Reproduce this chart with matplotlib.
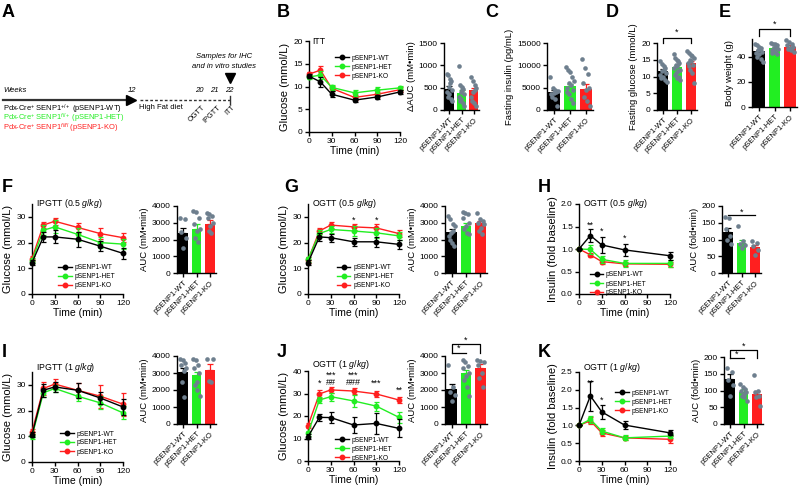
import numpy as np
import matplotlib
matplotlib.use('Agg')
import matplotlib.pyplot as plt

plt.rcParams['font.family'] = ['Liberation Sans', 'DejaVu Sans']
plt.rcParams['mathtext.fontset'] = 'custom'
plt.rcParams['mathtext.rm'] = 'Liberation Sans'
plt.rcParams['mathtext.it'] = 'Liberation Sans:italic'
plt.rcParams['axes.linewidth'] = 1.0

# groups
groups = ['pSENP1-WT', 'pSENP1-HET', 'pSENP1-KO']
colors = ['black', '#22ee22', '#ff1f1f']
dot_color = '#6e7f8e'

# time points
t_glu = [0, 15, 30, 60, 90, 120]
t_ins = [0, 15, 30, 60, 120]

# B: ITT glucose
itt_mean = [[12.3, 11.0, 8.3, 7.0, 7.7, 8.8],
            [12.1, 12.5, 9.8, 8.6, 9.2, 9.7],
            [12.7, 13.6, 9.6, 7.6, 8.3, 9.3]]
itt_err = [[0.4, 1.0, 0.7, 0.5, 0.5, 0.5],
           [0.4, 0.8, 0.6, 0.7, 0.6, 0.5],
           [0.4, 0.8, 0.5, 0.6, 0.5, 0.5]]
itt_auc = [480, 380, 440]
itt_auc_sem = [60, 60, 50]
itt_auc_dots = [[800, 780, 700, 650, 600, 520, 450, 400, 350, 300, 250, 200],
                [990, 560, 520, 480, 450, 400, 350, 300, 250, 200, 150, 100],
                [730, 640, 560, 500, 450, 400, 300, 200, 150, 100]]

# C: fasting insulin
ins_mean = [4000, 5300, 4800]
ins_sem = [450, 600, 1000]
ins_dots = [[7300, 5000, 4500, 4200, 4000, 3800, 3500, 3000, 2500, 1000],
            [9700, 9000, 8500, 7500, 6500, 6000, 5500, 5000, 4500, 4000, 3500, 2500, 1500],
            [11500, 9500, 8000, 6000, 5000, 4500, 3000, 2000, 1000]]

# D: fasting glucose
fg_mean = [11.7, 12.8, 14.0]
fg_sem = [0.5, 0.5, 0.7]
fg_dots = [[14.5, 13.8, 13.2, 12.5, 12, 11.5, 11, 10.5, 10, 9.5, 9, 8.5],
           [16.8, 15.5, 15, 14.5, 14, 13.5, 13, 12.5, 12, 11.5, 11, 10.5, 10, 9.5, 9],
           [17.5, 17, 16.5, 16, 15.5, 15, 14.5, 14, 13.5, 13, 12, 11, 8]]

# E: body weight
bw_mean = [44.5, 46.5, 48.0]
bw_sem = [1.0, 1.0, 1.0]
bw_dots = [[50, 49, 48, 47, 46, 45, 44, 43, 42, 40, 38, 36],
           [51, 50, 50, 49, 48, 47, 46, 45, 44, 43, 42],
           [53, 52, 50, 49, 48, 47, 46, 45, 44]]

# F: IPGTT 0.5 g/kg
f_mean = [[12.2, 22.2, 22.2, 21.3, 18.6, 15.8],
          [13.0, 24.8, 26.1, 23.2, 20.0, 19.4],
          [13.8, 26.8, 28.3, 25.9, 23.5, 21.9]]
f_err = [[1.0, 2.0, 2.5, 3.0, 2.0, 2.0],
         [1.0, 2.0, 2.5, 2.5, 2.0, 2.0],
         [1.0, 1.2, 1.3, 1.8, 2.0, 1.8]]
f_auc = [2380, 2650, 2950]
f_auc_sem = [280, 250, 200]
f_auc_dots = [[3300, 3250, 2450, 2100, 1500],
              [3700, 3650, 3300, 2900, 2600, 2500, 2100, 1850],
              [3600, 3550, 3400, 3300, 3000, 2800, 2500, 2400]]

# G: OGTT 0.5 g/kg
g_mean = [[12.2, 22.2, 21.9, 20.3, 20.3, 19.3],
          [13.5, 23.5, 25.1, 24.5, 23.8, 22.6],
          [13.2, 24.5, 26.8, 26.1, 25.7, 23.5]]
g_err = [[1.0, 1.5, 1.5, 1.5, 2.0, 1.8],
         [1.0, 1.5, 1.5, 1.8, 2.0, 1.5],
         [1.0, 1.3, 1.2, 1.3, 1.5, 1.2]]
g_auc = [2420, 2780, 2960]
g_auc_sem = [180, 180, 150]
g_auc_dots = [[3400, 3200, 2900, 2800, 2500, 2400, 2200, 2000, 1800, 1600],
              [3650, 3600, 3500, 3300, 3000, 2800, 2600, 2400, 2300],
              [3600, 3200, 3100, 3000, 2900, 2700, 2500, 2300]]

# H: OGTT 0.5 g/kg insulin
h_mean = [[1.0, 1.30, 1.09, 0.98, 0.85],
          [1.0, 0.99, 0.77, 0.68, 0.68],
          [1.0, 0.87, 0.72, 0.67, 0.66]]
h_err = [[0, 0.14, 0.17, 0.14, 0.09],
         [0, 0.10, 0.08, 0.07, 0.08],
         [0, 0.05, 0.05, 0.05, 0.06]]
h_auc = [122, 90, 78]
h_auc_sem = [12, 10, 7]
h_auc_dots = [[168, 165, 130, 110, 100, 88],
              [140, 95, 88, 85, 75],
              [95, 90, 80, 70, 55]]

# I: IPGTT 1 g/kg
i_mean = [[10.6, 27.9, 29.2, 27.9, 24.9, 21.4],
          [10.0, 26.9, 28.6, 25.6, 23.0, 19.1],
          [11.7, 28.6, 30.3, 27.9, 25.6, 22.5]]
i_err = [[1.0, 2.5, 2.0, 3.0, 2.5, 3.0],
         [1.0, 1.5, 1.5, 2.0, 2.5, 2.5],
         [1.0, 2.5, 2.0, 3.0, 4.5, 4.5]]
i_auc = [3070, 2870, 3150]
i_auc_sem = [250, 200, 380]
i_auc_dots = [[3800, 3750, 3600, 3500, 3300, 3100, 2500, 1600],
              [3800, 3750, 3500, 3300, 3000, 2500, 2300, 2000, 1650],
              [3850, 3800, 2550, 2500]]

# J: OGTT 1 g/kg
j_mean = [[10.8, 19.4, 19.3, 16.0, 16.7, 14.5],
          [12.3, 27.1, 28.6, 26.7, 24.4, 19.4],
          [15.7, 29.8, 31.6, 31.1, 29.8, 27.1]]
j_err = [[1.0, 1.5, 2.5, 3.5, 4.5, 4.0],
         [1.0, 1.5, 1.8, 2.5, 2.0, 2.3],
         [1.0, 1.8, 1.5, 1.2, 1.2, 1.5]]
j_auc = [2030, 3000, 3300]
j_auc_sem = [350, 180, 250]
j_auc_dots = [[3450, 2200, 1900, 1700, 1350],
              [3750, 3650, 3400, 3300, 3000, 2800, 2600, 2200, 1650],
              [3750, 3700, 3650, 3500, 3000, 2700, 2150]]

# K: OGTT 1 g/kg insulin
k_mean = [[1.0, 1.83, 1.38, 1.01, 0.79],
          [1.0, 1.17, 0.84, 0.65, 0.70],
          [1.0, 1.13, 0.79, 0.65, 0.61]]
k_err = [[0, 0.43, 0.20, 0.12, 0.07],
         [0, 0.10, 0.08, 0.07, 0.06],
         [0, 0.10, 0.08, 0.06, 0.10]]
k_auc = [135, 95, 90]
k_auc_sem = [15, 8, 10]
k_auc_dots = [[168, 155, 130, 115, 85],
              [120, 110, 105, 100, 95, 90, 85, 80, 70],
              [145, 100, 95, 85, 80, 55]]

# significance marks on time courses: (time, y, text)
g_marks = [(60, 28.8, '*'), (90, 28.8, '*')]
h_marks = [(15, 1.53, '**'), (30, 1.40, '*'), (60, 1.24, '*')]
j_marks = [(15, 34.7, '*'), (30, 38.2, '***'), (30, 34.7, '##'),
           (60, 38.2, '***'), (60, 34.7, '###'), (90, 34.7, '***'),
           (120, 31.6, '**')]
k_marks = [(15, 2.19, '**'), (30, 1.71, '*')]

W, H = 800, 487
fig = plt.figure(figsize=(8, 4.87), dpi=100)

# full-figure overlay in pixel coordinates for panel A and letters
ov = fig.add_axes([0, 0, 1, 1])
ov.set_xlim(0, W)
ov.set_ylim(H, 0)
ov.axis('off')


def px_axes(x0, y0, x1, y1):
    return fig.add_axes([x0 / W, 1 - y1 / H, (x1 - x0) / W, (y1 - y0) / H])


def style(ax):
    ax.spines['top'].set_visible(False)
    ax.spines['right'].set_visible(False)
    ax.tick_params(length=3, width=1, labelsize=6, pad=1.5)


def line_panel(rect, t, means, errs, ylim, yticks, ylabel, title, leg_xy, marks=(), title_y=1.0):
    ax = px_axes(*rect)
    style(ax)
    handles = []
    for k in [2, 1, 0]:
        h = ax.errorbar(t, means[k], yerr=errs[k], color=colors[k], marker='o',
                        ms=3.2, lw=1, elinewidth=0.9, capsize=1.8, capthick=0.9,
                        label=groups[k], clip_on=False, zorder=3 + (2 - k))
        for art in h.lines[1] + h.lines[2]:
            art.set_clip_on(False)
        h.lines[0].set_clip_on(False)
        handles.append(h)
    ax.set_xlim(0, 120)
    ax.set_xticks([0, 30, 60, 90, 120])
    ax.set_ylim(*ylim)
    ax.set_yticks(yticks)
    ax.set_ylabel(ylabel, fontsize=8, labelpad=2)
    ax.set_xlabel('Time (min)', fontsize=7.5, labelpad=0.5)
    ax.text(0.04, title_y, title, transform=ax.transAxes, fontsize=6.3, va='center', ha='left')
    lh = [handles[2][0], handles[1][0], handles[0][0]]
    ax.legend(lh, groups, loc='upper left', bbox_to_anchor=leg_xy, frameon=False,
              fontsize=4.8, handlelength=2.0, handletextpad=0.4, labelspacing=0.3,
              borderpad=0, borderaxespad=0)
    for tx, ty, s in marks:
        ax.text(tx, ty, s, ha='center', va='center', fontsize=6.5, clip_on=False)
    return ax


def bar_panel(rect, means, sems, dots, ylim, yticks, ylabel):
    ax = px_axes(*rect)
    style(ax)
    x = np.arange(3)
    ax.bar(x, means, width=0.72, color=colors, zorder=1)
    for i in range(3):
        ax.errorbar(x[i], means[i], yerr=[[0], [sems[i]]], fmt='none', ecolor=colors[i],
                    elinewidth=0.9, capsize=2, capthick=0.9, zorder=2)
        n = len(dots[i])
        offs = np.linspace(-0.24, 0.24, n)[np.argsort(np.arange(n) % 3)]
        ax.scatter(x[i] + offs, dots[i], s=11, color=dot_color, zorder=3,
                   linewidths=0, clip_on=False)
    ax.set_xlim(-0.45, 2.45)
    ax.set_ylim(*ylim)
    ax.set_yticks(yticks)
    ax.set_xticks(x)
    ax.set_xticklabels(groups, rotation=45, ha='right', rotation_mode='anchor', fontsize=5.5)
    ax.set_ylabel(ylabel, fontsize=6.8, labelpad=2)
    return ax


def bracket(ax, x0, x1, y, leg, text, ty, legs=True):
    if legs:
        ax.plot([x0, x0, x1, x1], [leg, y, y, leg], color='black', lw=0.9, clip_on=False)
    else:
        ax.plot([x0, x1], [y, y], color='black', lw=0.9, clip_on=False)
    ax.text((x0 + x1) / 2, ty, text, ha='center', va='center', fontsize=6.5, clip_on=False)


# ---- panel A schematic ----
ov.text(3, 92, 'Weeks', fontsize=5.5, style='italic', va='baseline')
ov.plot([3, 131], [100, 100], color='#333333', lw=1.6)
ov.plot([131], [100], marker='>', ms=7, color='black')
ov.plot([140, 230], [100, 100], color='#333333', lw=1, ls=(0, (2, 1.5)))
ov.plot([230, 230], [96, 104], color='#333333', lw=1)
ov.plot([230], [78], marker='v', ms=7, color='black')
week_marks = [12, 20, 21, 22]
week_px = [132, 199, 214, 229]
for w, px in zip(week_marks, week_px):
    ov.text(px, 92, str(w), fontsize=5.5, style='italic', ha='center', va='baseline')
tests = ['OGTT', 'IPGTT', 'ITT']
for s, px in zip(tests, week_px[1:]):
    ov.text(px + 3, 104, s, fontsize=5.3, rotation=45, ha='right', va='top',
            rotation_mode='anchor')
ov.text(139, 109, 'High Fat diet', fontsize=5.5, va='baseline')
ov.text(224, 57, 'Samples for IHC', fontsize=5.5, style='italic', ha='center', va='center')
ov.text(224, 67, 'and in vitro studies', fontsize=5.5, style='italic', ha='center', va='center')
geno = [r'Pdx-Cre$^{+}$ SENP1$^{+/+}$ (pSENP1-WT)',
        r'Pdx-Cre$^{+}$ SENP1$^{fl/+}$ (pSENP1-HET)',
        r'Pdx-Cre$^{+}$ SENP1$^{fl/fl}$ (pSENP1-KO)']
for k, s in enumerate(geno):
    ov.text(3, 111 + 9.6 * k, s, fontsize=5.4, color=colors[k], va='baseline')

# panel letters
letters = [('A', 2, 4), ('B', 277, 4), ('C', 485, 4), ('D', 606, 4), ('E', 719, 4),
           ('F', 2, 179), ('G', 284, 179), ('H', 538, 179),
           ('I', 2, 344), ('J', 277, 344), ('K', 538, 344)]
for s, lx, ly in letters:
    ov.text(lx, ly, s, fontsize=13, fontweight='bold', va='top', ha='left')

# ---- top row ----
line_panel((309, 41, 400, 132), t_glu, itt_mean, itt_err, (0, 20), [0, 5, 10, 15, 20],
           'Glucose (mmol/L)', 'ITT', (0.29, 0.85))
bar_panel((444, 43, 479, 110), itt_auc, itt_auc_sem, itt_auc_dots, (0, 1500),
          [0, 500, 1000, 1500], 'ΔAUC (mM•min)')
bar_panel((547, 43, 593, 110), ins_mean, ins_sem, ins_dots, (0, 15000),
          [0, 5000, 10000, 15000], 'Fasting insulin (pg/mL)')
axd = bar_panel((657, 43, 697, 110), fg_mean, fg_sem, fg_dots, (0, 20),
                [0, 5, 10, 15, 20], 'Fasting glucose (mmol/L)')
bracket(axd, 0, 2, 21.5, 20, '*', 23.3)
axe = bar_panel((752, 39, 797, 107), bw_mean, bw_sem, bw_dots, (0, 54),
                [0, 20, 40], 'Body weight (g)')
bracket(axe, 0, 2, 62, 56, '*', 66)

# ---- middle row ----
line_panel((32, 204, 123, 294), t_glu, f_mean, f_err, (0, 35), [0, 10, 20, 30],
           'Glucose (mmol/L)', r'IPGTT ($\it{0.5\ g/kg}$)', (0.29, 0.33))
bar_panel((177, 206, 216, 273), f_auc, f_auc_sem, f_auc_dots, (0, 4000),
          [0, 1000, 2000, 3000, 4000], 'AUC (mM•min)')
line_panel((308, 204, 399, 294), t_glu, g_mean, g_err, (0, 35), [0, 10, 20, 30],
           'Glucose (mmol/L)', r'OGTT ($\it{0.5\ g/kg}$)', (0.32, 0.33), g_marks)
bar_panel((445, 206, 487, 273), g_auc, g_auc_sem, g_auc_dots, (0, 4000),
          [0, 1000, 2000, 3000, 4000], 'AUC (mM•min)')
line_panel((579, 204, 670, 294), t_ins, h_mean, h_err, (0, 2.0), [0, 0.5, 1.0, 1.5, 2.0],
           'Insulin (fold baseline)', r'OGTT ($\it{0.5\ g/kg}$)', (0.12, 0.25), h_marks)
axh = bar_panel((722, 206, 761, 273), h_auc, h_auc_sem, h_auc_dots, (0, 200),
                [0, 50, 100, 150, 200], 'AUC (fold•min)')
bracket(axh, 0, 2, 173, 173, '*', 182, legs=False)

# ---- bottom row ----
line_panel((32, 372, 123, 462), t_glu, i_mean, i_err, (0, 35), [0, 10, 20, 30],
           'Glucose (mmol/L)', r'IPGTT ($\it{1\ g/kg}$)', (0.31, 0.35), title_y=1.055)
bar_panel((177, 356, 216, 424), i_auc, i_auc_sem, i_auc_dots, (0, 4000),
          [0, 1000, 2000, 3000, 4000], 'AUC (mM•min)')
line_panel((308, 371, 399, 461), t_glu, j_mean, j_err, (0, 40), [0, 10, 20, 30, 40],
           'Glucose (mmol/L)', r'OGTT ($\it{1\ g/kg}$)', (0.30, 0.27), j_marks, title_y=1.07)
axj = bar_panel((445, 356, 487, 424), j_auc, j_auc_sem, j_auc_dots, (0, 4000),
                [0, 1000, 2000, 3000, 4000], 'AUC (mM•min)')
bracket(axj, 0, 2, 4700, 4180, '*', 4950)
bracket(axj, 0, 1, 4180, 4180, '*', 4430, legs=False)
line_panel((579, 372, 670, 461), t_ins, k_mean, k_err, (0, 2.5), [0, 0.5, 1.0, 1.5, 2.0, 2.5],
           'Insulin (fold baseline)', r'OGTT ($\it{1\ g/kg}$)', (0.40, 0.80), k_marks,
           title_y=1.055)
axk = bar_panel((724, 357, 763, 424), k_auc, k_auc_sem, k_auc_dots, (0, 200),
                [0, 50, 100, 150, 200], 'AUC (fold•min)')
bracket(axk, 0, 2, 221, 197, '*', 233)
bracket(axk, 0, 1, 197, 197, '*', 207, legs=False)

fig.savefig('out.png', dpi=100)
